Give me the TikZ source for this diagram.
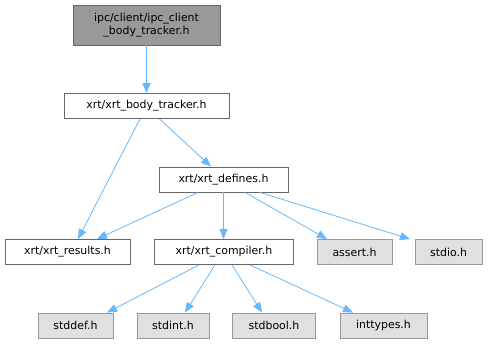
\documentclass[tikz,border=0pt]{standalone}
\usepackage{fontspec}
\setmainfont{DejaVu Sans}
\usepackage{xcolor}
\usetikzlibrary{arrows.meta,calc}
\definecolor{edgeblue}{HTML}{63B8FF}

\begin{document}
\begin{tikzpicture}[x=0.75pt, y=-0.75pt, >={Triangle[length=7.5pt,width=6pt]}, every node/.style={font=\fontsize{8.2pt}{9.6pt}\selectfont, inner sep=0pt},
  file/.style={draw=black!60, fill=white, align=center, minimum height=19pt},
  sys/.style={file, draw=black!40, fill=black!12},
  dep/.style={->, draw=edgeblue, line width=0.6pt}]
\useasboundingbox (0,0) rectangle (488,344);
\node[file, fill=black!40, minimum width=110pt, minimum height=30pt] (top) at (146.5,25) {ipc/client/ipc\_client\\\_body\_tracker.h};
\node[file, minimum width=124pt] (bt) at (146.5,106) {xrt/xrt\_body\_tracker.h};
\node[file, minimum width=97pt] (def) at (223.5,179.5) {xrt/xrt\_defines.h};
\node[file, minimum width=94pt] (res) at (67.5,252) {xrt/xrt\_results.h};
\node[file, minimum width=104pt] (comp) at (224,252) {xrt/xrt\_compiler.h};
\node[sys, minimum width=56pt] (assert) at (354.5,252) {assert.h};
\node[sys, minimum width=50pt] (stdio) at (448.5,252) {stdio.h};
\node[sys, minimum width=56pt] (stddef) at (75.5,325.5) {stddef.h};
\node[sys, minimum width=54pt] (stdint) at (173,325.5) {stdint.h};
\node[sys, minimum width=62pt] (stdbool) at (274,325.5) {stdbool.h};
\node[sys, minimum width=65pt] (inttypes) at (383.5,325.5) {inttypes.h};
% include edges
\draw[dep] (top) -- (bt);
\draw[dep] ($(bt.south)+(-6.5,0)$) -- ($(res.north)+(10.5,0)$);
\draw[dep] ($(bt.south)+(13,0)$) -- ($(def.north)+(-12.5,0)$);
\draw[dep] ($(def.south)+(-25.5,0)$) -- ($(res.north)+(29.5,0)$);
\draw[dep] (def.south) -- (def.south |- comp.north);
\draw[dep] ($(def.south)+(21.5,0)$) -- ($(assert.north)+(-27.5,0)$);
\draw[dep] ($(def.south)+(36.5,0)$) -- ($(stdio.north)+(-38.5,0)$);
\draw[dep] ($(comp.south)+(-25,0)$) -- ($(stddef.north)+(31.5,0)$);
\draw[dep] ($(comp.south)+(-9,0)$) -- ($(stdint.north)+(12,0)$);
\draw[dep] ($(comp.south)+(8,0)$) -- ($(stdbool.north)+(-12,0)$);
\draw[dep] ($(comp.south)+(26,0)$) -- ($(inttypes.north)+(-30.5,0)$);
\end{tikzpicture}
\end{document}
